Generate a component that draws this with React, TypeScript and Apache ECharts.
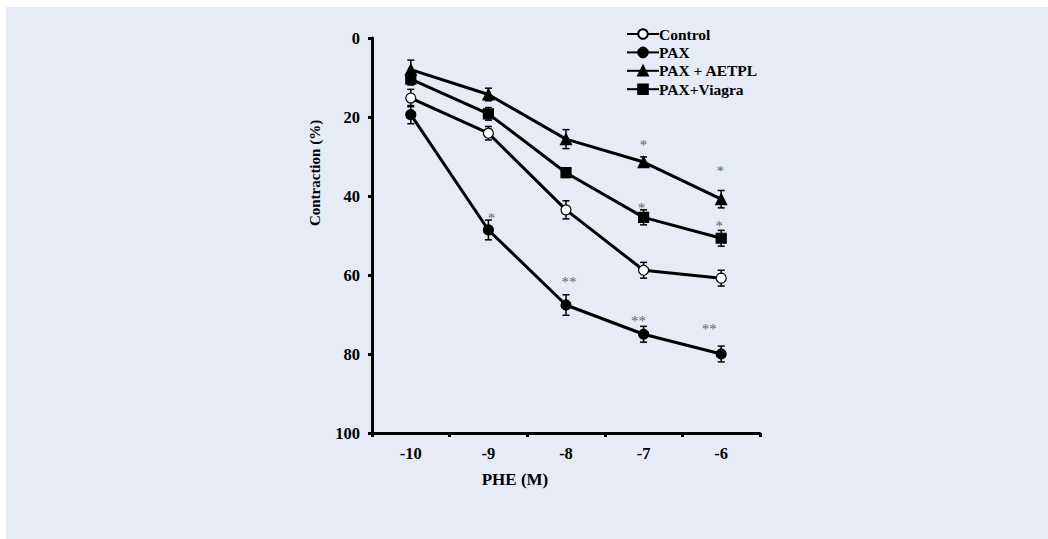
import React, { useEffect, useRef } from "react";
import * as echarts from "echarts";

const categories = ["-10", "-9", "-8", "-7", "-6"];
const seriesNames = ["Control", "PAX", "PAX + AETPL", "PAX+Viagra"];
const controlValues = [15.2, 24.1, 43.5, 58.8, 60.8];
const controlErrors = [2.2, 1.7, 2.3, 2.0, 2.0];
const paxValues = [19.4, 48.6, 67.6, 75.0, 80.0];
const paxErrors = [2.3, 2.5, 2.6, 2.0, 2.0];
const aetplValues = [8.0, 14.3, 25.6, 31.4, 40.8];
const aetplErrors = [2.4, 1.6, 2.4, 1.3, 2.2];
const viagraValues = [10.4, 19.2, 34.1, 45.4, 50.7];
const viagraErrors = [1.5, 1.6, 1.2, 1.9, 2.0];
const yTicks = [0, 20, 40, 60, 80, 100];

// significance marks: category, value, label
const sigCategories = ["-7", "-6", "-7", "-6", "-9", "-8", "-7", "-6"];
const sigValues = [26.1, 32.7, 42.0, 46.6, 44.6, 60.8, 70.6, 72.7];
const sigLabels = ["*", "*", "*", "*", "*", "**", "**", "**"];
const sigShift = [0, -1, -2, -2, 3, 3, -5, -12];

const FONT = "Liberation Serif";

function errorSeries(values: number[], errs: number[]) {
  return {
    type: "custom",
    z: 1,
    silent: true,
    data: values.map((v, i) => [i, v - errs[i], v + errs[i]]),
    renderItem: (params: any, api: any) => {
      const lo = api.coord([api.value(0), api.value(1)]);
      const hi = api.coord([api.value(0), api.value(2)]);
      const w = 3.5;
      const style = { stroke: "#000", lineWidth: 1.5 };
      return {
        type: "group",
        children: [
          { type: "line", shape: { x1: lo[0], y1: lo[1], x2: hi[0], y2: hi[1] }, style },
          { type: "line", shape: { x1: lo[0] - w, y1: lo[1], x2: lo[0] + w, y2: lo[1] }, style },
          { type: "line", shape: { x1: hi[0] - w, y1: hi[1], x2: hi[0] + w, y2: hi[1] }, style },
        ],
      };
    },
  };
}

function lineSeries(name: string, values: number[], symbol: string, fill: string, size: number) {
  return {
    type: "line",
    name,
    data: values,
    z: 3,
    symbol,
    symbolSize: size,
    showAllSymbol: true,
    lineStyle: { color: "#000", width: 3 },
    itemStyle: { color: fill, borderColor: "#000", borderWidth: 1.2 },
  };
}

export default function App() {
  const ref = useRef<HTMLDivElement>(null);
  useEffect(() => {
    if (!ref.current) return;
    const chart = echarts.init(ref.current, null, { renderer: "svg" });
    chart.setOption({
      animation: false,
      backgroundColor: "#ffffff",
      textStyle: { fontFamily: FONT },
      graphic: [
        {
          type: "rect",
          z: -10,
          silent: true,
          shape: { x: 6, y: 7, width: 1042, height: 532 },
          style: { fill: "#e7ebf6" },
        },
        {
          type: "text",
          x: 315,
          y: 173,
          rotation: Math.PI / 2,
          style: {
            text: "Contraction (%)",
            font: `bold 15px "${FONT}"`,
            fill: "#000",
            textAlign: "center",
            textVerticalAlign: "middle",
          },
        },
        {
          type: "text",
          x: 515,
          y: 479,
          style: {
            text: "PHE (M)",
            font: `bold 17px "${FONT}"`,
            fill: "#000",
            textAlign: "center",
            textVerticalAlign: "middle",
          },
        },
      ],
      legend: {
        orient: "vertical",
        left: 621,
        top: 21,
        itemWidth: 32,
        itemHeight: 12,
        itemGap: 2.4,
        data: seriesNames,
        textStyle: { fontFamily: FONT, fontWeight: "bold", fontSize: 15.5, color: "#000", padding: [0, 0, 0, -5] },
      },
      grid: { left: 372, right: 288, top: 38, bottom: 106 },
      xAxis: {
        type: "category",
        data: categories,
        position: "bottom",
        boundaryGap: true,
        axisLine: { onZero: false, lineStyle: { color: "#000", width: 3 } },
        axisTick: { show: true, length: 4, lineStyle: { color: "#000", width: 3 } },
        axisLabel: { color: "#000", fontFamily: FONT, fontWeight: "bold", fontSize: 16.5, margin: 12 },
        splitLine: { show: false },
      },
      yAxis: {
        type: "value",
        inverse: true,
        min: yTicks[0],
        max: yTicks[yTicks.length - 1],
        interval: yTicks[1] - yTicks[0],
        axisLine: { show: true, onZero: false, lineStyle: { color: "#000", width: 3 } },
        axisTick: { show: true, length: 4, lineStyle: { color: "#000", width: 3 } },
        axisLabel: { color: "#000", fontFamily: FONT, fontWeight: "bold", fontSize: 16.5, margin: 12 },
        splitLine: { show: false },
      },
      series: [
        errorSeries(controlValues, controlErrors),
        errorSeries(paxValues, paxErrors),
        errorSeries(aetplValues, aetplErrors),
        errorSeries(viagraValues, viagraErrors),
        lineSeries(seriesNames[0], controlValues, "circle", "#ffffff", 10),
        lineSeries(seriesNames[1], paxValues, "circle", "#000000", 10),
        lineSeries(seriesNames[2], aetplValues, "triangle", "#000000", 11),
        lineSeries(seriesNames[3], viagraValues, "rect", "#000000", 10),
        {
          type: "scatter",
          z: 4,
          silent: true,
          symbolSize: 0,
          itemStyle: { color: "#444" },
          data: sigValues.map((v, i) => ({
            value: [sigCategories[i], v],
            label: {
              show: true,
              position: "inside",
              formatter: sigLabels[i],
              offset: [sigShift[i], 4],
              color: "#3a3a3a",
              textBorderWidth: 0,
              textBorderColor: "transparent",
              fontFamily: FONT,
              fontSize: 15,
            },
          })),
        },
      ],
    });
    return () => chart.dispose();
  }, []);
  return (
    <div
      ref={ref}
      style={{ position: "fixed", left: 0, top: 0, width: 1048, height: 539 }}
    />
  );
}
